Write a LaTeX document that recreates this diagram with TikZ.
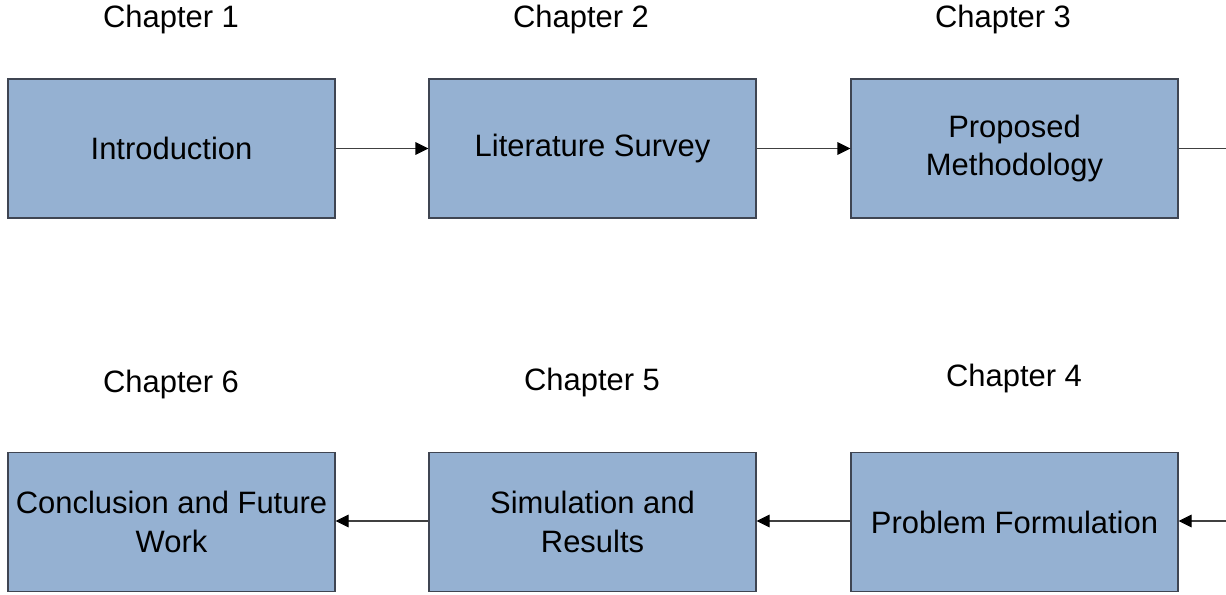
\documentclass[tikz,border=0pt]{standalone}
\usepackage{fontspec}
\setmainfont{Liberation Sans}
\usetikzlibrary{arrows.meta}
\definecolor{boxfill}{HTML}{95B1D2}
\definecolor{boxedge}{HTML}{3F4552}
\definecolor{linkgray}{HTML}{404040}
\begin{document}
\begin{tikzpicture}[x=0.75pt,y=-0.75pt,
  chapterbox/.style={draw=boxedge,line width=0.8pt,fill=boxfill,
    minimum width=245.25pt,minimum height=104.25pt,inner sep=0pt,
    align=center,font=\fontsize{23.2}{29}\selectfont},
  chaptertitle/.style={font=\fontsize{23.2}{29}\selectfont,inner sep=0pt},
  link/.style={draw=linkgray,line width=0.8pt,
    -{Triangle[length=9.75pt,width=9.5pt,color=black]}},
  plainlink/.style={draw=linkgray,line width=0.8pt}]
\useasboundingbox (0,0) rectangle (1226,595);

% top row
\node[chaptertitle] (t1) at (171,20) {Chapter 1};
\node[chaptertitle] (t2) at (581,20) {Chapter 2};
\node[chaptertitle] (t3) at (1003,20) {Chapter 3};
\node[chapterbox] (intro) at (171.5,148.5) {Introduction};
\node[chapterbox] (lit) at (592.5,148.5) {Literature Survey\vphantom{y}};
\node[chapterbox] (meth) at (1014.5,148.5) {Proposed\\Methodology};

% bottom row
\node[chaptertitle] (t6) at (171,384) {Chapter 6};
\node[chaptertitle] (t5) at (592,382) {Chapter 5};
\node[chaptertitle] (t4) at (1014,378) {Chapter 4};
\node[chapterbox] (concl) at (171.5,522) {Conclusion and Future\\Work};
\node[chapterbox] (sim) at (592.5,522) {Simulation and\\Results};
\node[chapterbox] (prob) at (1014.5,522) {Problem Formulation};

% connectors
\coordinate (outR) at (1226,148.5);
\coordinate (inR) at (1226,521);
\draw[link] (intro.east) -- (lit.west);
\draw[link] (lit.east) -- (meth.west);
\draw[plainlink] (meth.east) -- (outR);
\draw[link] (inR) -- (prob.east |- inR);
\draw[link] (prob.west |- inR) -- (sim.east |- inR);
\draw[link] (sim.west |- inR) -- (concl.east |- inR);
\end{tikzpicture}
\end{document}
